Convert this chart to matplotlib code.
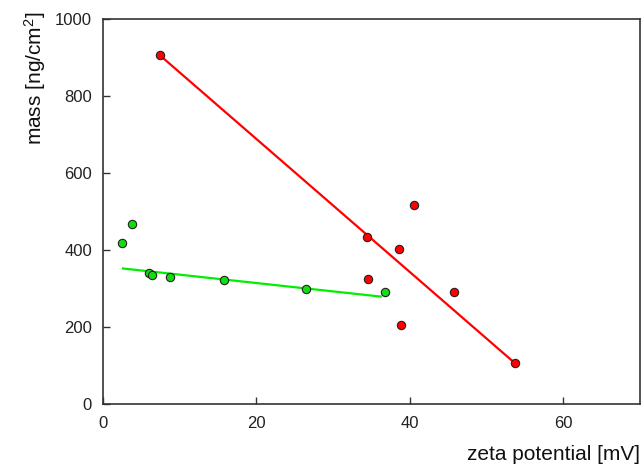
import matplotlib.pyplot as plt

plt.rcParams['font.family'] = ['Liberation Sans', 'DejaVu Sans']
plt.rcParams['mathtext.default'] = 'regular'

# red series
red_zeta = [7.4, 34.4, 34.5, 38.6, 38.9, 40.6, 45.8, 53.7]
red_mass = [906, 435, 325, 402, 205, 516, 290, 106]
red_fit_x = [7.4, 53.7]
red_fit_y = [906, 106]

# green series
green_zeta = [2.5, 3.8, 6.0, 6.4, 8.7, 15.8, 26.5, 36.8]
green_mass = [417, 468, 340, 335, 329, 322, 299, 290]
green_fit_x = [2.6, 36.2]
green_fit_y = [352, 279]

fig = plt.figure(figsize=(6.43, 4.67), dpi=100)
ax = fig.add_axes([103 / 643, 63 / 467, 537 / 643, 385 / 467])

ax.plot(red_fit_x, red_fit_y, color='#ff0000', lw=1.6, zorder=2)
ax.plot(green_fit_x, green_fit_y, color='#00ee00', lw=1.6, zorder=2)
ax.plot(red_zeta, red_mass, 'o', color='#ff0000', mec='#222222', mew=0.8, ms=6, zorder=3)
ax.plot(green_zeta, green_mass, 'o', color='#11dd11', mec='#222222', mew=0.8, ms=6, zorder=3)

ax.set_xlim(0, 70)
ax.set_ylim(0, 1000)
ax.set_xticks([0, 20, 40, 60])
ax.set_yticks([0, 200, 400, 600, 800, 1000])
ax.tick_params(direction='in', length=5, width=1, labelsize=12, colors='#333333', labelcolor='#222222')
ax.tick_params(axis='y', pad=8)
ax.tick_params(axis='x', pad=9)
for s in ax.spines.values():
    s.set_color('#333333')
    s.set_linewidth(1.2)

fig.text(640 / 643, 1 - 455 / 467, 'zeta potential [mV]', ha='right', va='center', fontsize=15, color='#111111')
fig.text(35 / 643, 1 - 12 / 467, 'mass [ng/cm$^{2}$]', ha='center', va='top', rotation=90, fontsize=15, color='#111111')

fig.savefig('out.png', dpi=100)
